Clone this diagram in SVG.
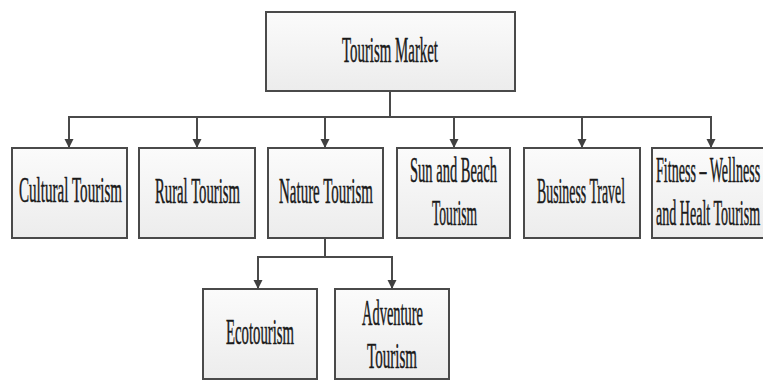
<svg xmlns="http://www.w3.org/2000/svg" width="763" height="381" viewBox="0 0 763 381">
<defs>
<linearGradient id="g" x1="0" y1="0" x2="0" y2="1">
<stop offset="0" stop-color="#fbfbfb"/>
<stop offset="1" stop-color="#ececec"/>
</linearGradient>
<marker id="arr" viewBox="0 0 9 13" refX="9" refY="4.5" markerWidth="9" markerHeight="13" markerUnits="userSpaceOnUse" orient="auto">
<path d="M0,0 L9,4.5 L0,9 Z" fill="#404040"/>
</marker>
</defs>
<style>
.box{fill:url(#g);stroke:#4a4a4a;stroke-width:2}
.t{font-family:"Liberation Serif","Times New Roman",serif;font-size:36px;fill:#1a1a1a;stroke:#1a1a1a;stroke-width:0.5}
.c{fill:none;stroke:#4a4a4a;stroke-width:2}
.a{fill:none;stroke:#4a4a4a;stroke-width:2;marker-end:url(#arr)}
</style>
<rect width="763" height="381" fill="#ffffff"/>
<g id="connectors">
<path class="c" d="M390 91 V117 M68 117 H712"/>
<path class="a" d="M69 117 V148"/>
<path class="a" d="M197 117 V148"/>
<path class="a" d="M325 117 V148"/>
<path class="a" d="M454 117 V148"/>
<path class="a" d="M582 117 V148"/>
<path class="a" d="M711 117 V148"/>
<path class="c" d="M325 238 V257 M257 257 H393"/>
<path class="a" d="M258 257 V289"/>
<path class="a" d="M392 257 V289"/>
</g>
<g id="tourism-market">
<rect class="box" x="266" y="12" width="249" height="79"/>
<text class="t" transform="translate(342,62) scale(0.5,1)" textLength="192" lengthAdjust="spacingAndGlyphs">Tourism Market</text>
</g>
<g id="cultural-tourism">
<rect class="box" x="12" y="148" width="115" height="90"/>
<text class="t" transform="translate(19,202) scale(0.5,1)" textLength="206" lengthAdjust="spacingAndGlyphs">Cultural Tourism</text>
</g>
<g id="rural-tourism">
<rect class="box" x="139" y="148" width="116" height="90"/>
<text class="t" transform="translate(155,203) scale(0.5,1)" textLength="170" lengthAdjust="spacingAndGlyphs">Rural Tourism</text>
</g>
<g id="nature-tourism">
<rect class="box" x="268" y="148" width="115" height="90"/>
<text class="t" transform="translate(279,203) scale(0.5,1)" textLength="188" lengthAdjust="spacingAndGlyphs">Nature Tourism</text>
</g>
<g id="sun-and-beach-tourism">
<rect class="box" x="397" y="148" width="113" height="90"/>
<text class="t" transform="translate(410,182) scale(0.5,1)" textLength="174" lengthAdjust="spacingAndGlyphs">Sun and Beach</text>
<text class="t" transform="translate(432,225) scale(0.5,1)" textLength="90" lengthAdjust="spacingAndGlyphs">Tourism</text>
</g>
<g id="business-travel">
<rect class="box" x="524" y="148" width="116" height="90"/>
<text class="t" transform="translate(537,203) scale(0.5,1)" textLength="176" lengthAdjust="spacingAndGlyphs">Business Travel</text>
</g>
<g id="fitness-wellness">
<rect class="box" x="652" y="148" width="125" height="90"/>
<text class="t" transform="translate(656,182) scale(0.38,1)" textLength="274" lengthAdjust="spacingAndGlyphs">Fitness – Wellness</text>
<text class="t" transform="translate(656,225) scale(0.38,1)" textLength="274" lengthAdjust="spacingAndGlyphs">and Healt Tourism</text>
</g>
<g id="ecotourism">
<rect class="box" x="203" y="289" width="114" height="90"/>
<text class="t" transform="translate(226,344) scale(0.5,1)" textLength="136" lengthAdjust="spacingAndGlyphs">Ecotourism</text>
</g>
<g id="adventure-tourism">
<rect class="box" x="335" y="289" width="114" height="90"/>
<text class="t" transform="translate(362,325) scale(0.5,1)" textLength="122" lengthAdjust="spacingAndGlyphs">Adventure</text>
<text class="t" transform="translate(367,368) scale(0.5,1)" textLength="100" lengthAdjust="spacingAndGlyphs">Tourism</text>
</g>
</svg>
